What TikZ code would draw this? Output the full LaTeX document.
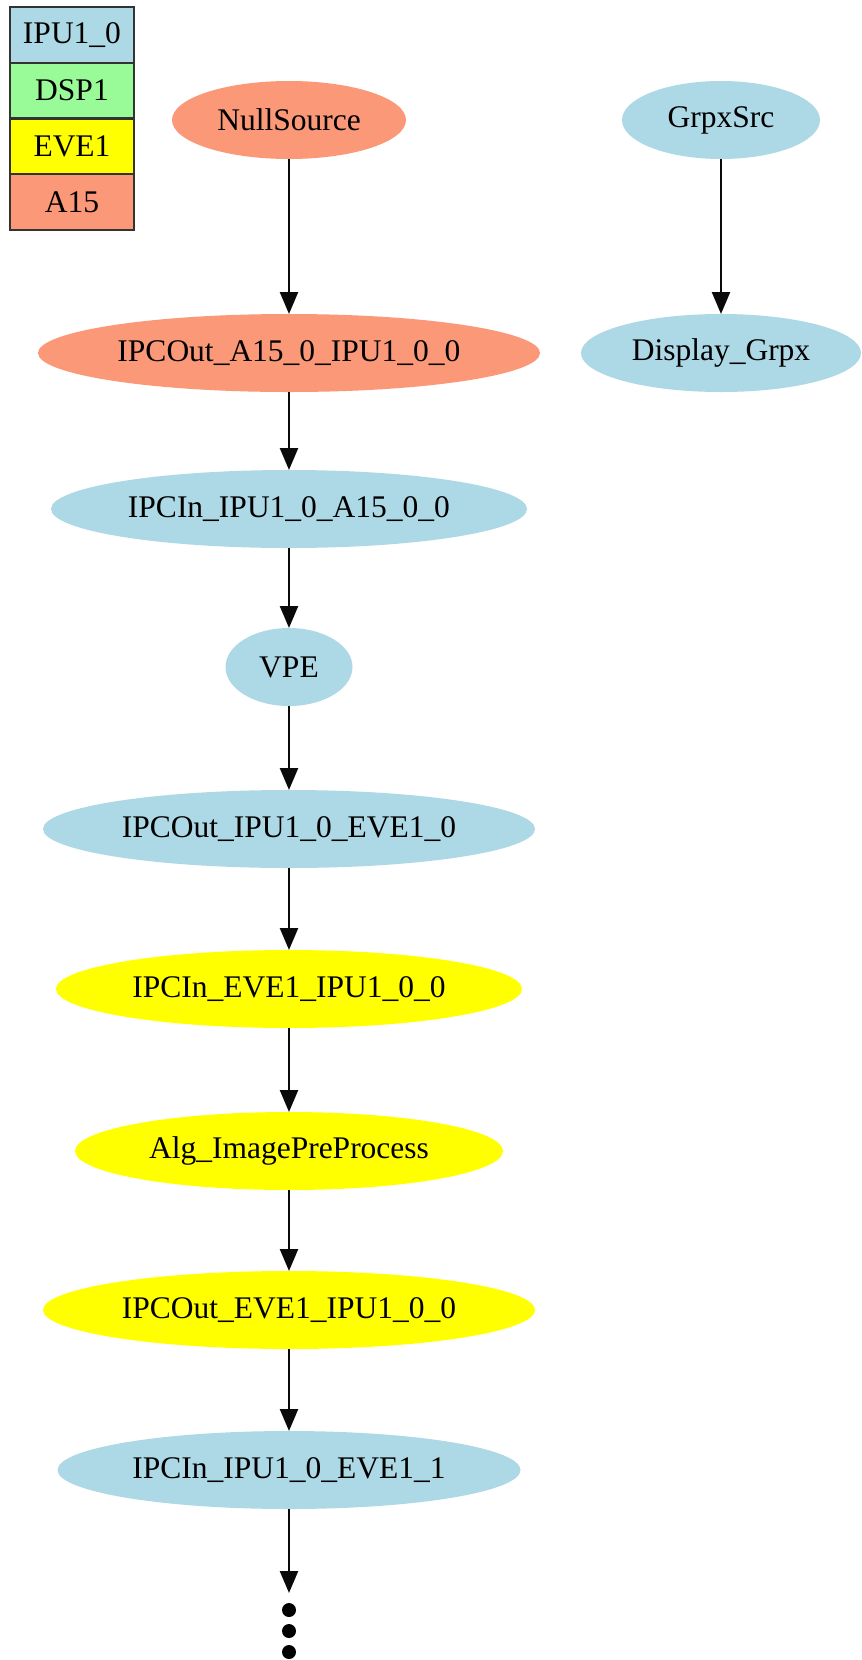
\documentclass[tikz,border=0pt]{standalone}
\usepackage{fontspec}
\setmainfont{Liberation Serif}
\usetikzlibrary{shapes.geometric,arrows.meta}
\definecolor{cblue}{RGB}{173,216,230}
\definecolor{cgreen}{RGB}{152,251,152}
\definecolor{cyellow}{RGB}{255,255,0}
\definecolor{csalmon}{RGB}{250,152,120}
\definecolor{cedge}{RGB}{10,10,10}
\tikzset{
  nd/.style={ellipse, inner sep=0pt, outer sep=0pt, minimum height=78pt,
    font=\fontsize{31.5}{31.5}\selectfont},
  leg/.style={rectangle, draw=black!80, line width=2.2pt, inner sep=0pt, outer sep=0pt,
    minimum width=124pt, minimum height=55.6pt, font=\fontsize{31.5}{31.5}\selectfont},
  edge/.style={draw=cedge, line width=2.4pt, -{Triangle[length=22pt,width=18pt]}},
  dotn/.style={circle, fill=black, inner sep=0pt, minimum size=14pt}
}
\begin{document}
\begin{tikzpicture}[x=1pt,y=-1pt]
\useasboundingbox (0,0) rectangle (862,1660);
\fill[white] (0,0) rectangle (862,1660);
% legend
\node[leg, fill=cblue]   (l1) at (72,35)  {IPU1\_0};
\node[leg, fill=cgreen]  (l2) at (72,90.6) {DSP1};
\node[leg, fill=cyellow] (l3) at (72,146.2) {EVE1};
\node[leg, fill=csalmon] (l4) at (72,201.8) {A15};
% nodes
\node[nd, fill=csalmon, minimum width=234pt] (n1) at (289,120) {NullSource};
\node[nd, fill=cblue, minimum width=198pt] (g1) at (721,120) {GrpxSrc};
\node[nd, fill=csalmon, minimum width=502pt] (n2) at (289,353) {IPCOut\_A15\_0\_IPU1\_0\_0};
\node[nd, fill=cblue, minimum width=280pt] (g2) at (721,353) {Display\_Grpx};
\node[nd, fill=cblue, minimum width=476pt] (n3) at (289,509) {IPCIn\_IPU1\_0\_A15\_0\_0};
\node[nd, fill=cblue, minimum width=127pt] (n4) at (289,667) {VPE};
\node[nd, fill=cblue, minimum width=492pt] (n5) at (289,829) {IPCOut\_IPU1\_0\_EVE1\_0};
\node[nd, fill=cyellow, minimum width=466pt] (n6) at (289,989) {IPCIn\_EVE1\_IPU1\_0\_0};
\node[nd, fill=cyellow, minimum width=428pt] (n7) at (289,1151) {Alg\_ImagePreProcess};
\node[nd, fill=cyellow, minimum width=492pt] (n8) at (289,1310) {IPCOut\_EVE1\_IPU1\_0\_0};
\node[nd, fill=cblue, minimum width=463pt] (n9) at (289,1470) {IPCIn\_IPU1\_0\_EVE1\_1};
\coordinate (tip) at (289,1593);
\node[dotn] (d1) at (289,1610) {};
\node[dotn] (d2) at (289,1631) {};
\node[dotn] (d3) at (289,1652) {};
% edges
\draw[edge] (n1) -- (n2);
\draw[edge] (g1) -- (g2);
\draw[edge] (n2) -- (n3);
\draw[edge] (n3) -- (n4);
\draw[edge] (n4) -- (n5);
\draw[edge] (n5) -- (n6);
\draw[edge] (n6) -- (n7);
\draw[edge] (n7) -- (n8);
\draw[edge] (n8) -- (n9);
\draw[edge] (n9) -- (tip);
\end{tikzpicture}
\end{document}
